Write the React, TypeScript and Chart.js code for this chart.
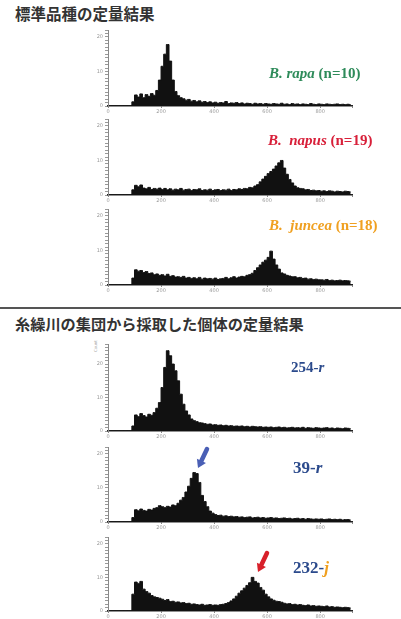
import React, { useEffect, useRef } from "react";
import { Chart, registerables } from "chart.js";
Chart.register(...registerables);

// bin centers (10-unit bins)
const binCenters = [
  5, 15, 25, 35, 45, 55, 65, 75, 85, 95,
  105, 115, 125, 135, 145, 155, 165, 175, 185, 195,
  205, 215, 225, 235, 245, 255, 265, 275, 285, 295,
  305, 315, 325, 335, 345, 355, 365, 375, 385, 395,
  405, 415, 425, 435, 445, 455, 465, 475, 485, 495,
  505, 515, 525, 535, 545, 555, 565, 575, 585, 595,
  605, 615, 625, 635, 645, 655, 665, 675, 685, 695,
  705, 715, 725, 735, 745, 755, 765, 775, 785, 795,
  805, 815, 825, 835, 845, 855, 865, 875, 885, 895,
  905, 915,
];

const xTickLabels = ["0", "200", "400", "600", "800"];
const yTickLabels = ["0", "10", "20"];

const rapaCounts = [
  0, 0, 0, 0, 0, 0, 0, 0, 0, 1.2,
  3.2, 2.6, 3.5, 2.4, 3.3, 2.8, 3.6, 3.1, 4.5, 7.5,
  11.5, 15, 17.8, 13, 7.5, 4.2, 3, 2.4, 2.1, 1.7,
  1.9, 1.4, 1.6, 1.2, 1.5, 1.1, 1.3, 1, 1.2, 0.9,
  1.1, 0.8, 1, 0.9, 1.3, 0.7, 0.9, 0.8, 1, 0.7,
  0.9, 0.6, 0.8, 0.7, 0.5, 0.8, 0.6, 0.7, 0.5, 0.7,
  0.6, 0.5, 0.7, 0.6, 0.5, 0.8, 0.5, 0.6, 0.4, 0.7,
  0.5, 0.6, 0.4, 0.6, 0.5, 0.4, 0.7, 0.5, 0.4, 0.6,
  0.5, 0.4, 0.6, 0.5, 0.4, 0.5, 0.6, 0.4, 0.5, 0.4,
  0.5, 0.4,
];

const napusCounts = [
  0, 0, 0, 0, 0, 0, 0, 0, 0, 1.5,
  2.8, 2.4, 2.9, 2, 1.8, 2.2, 1.6, 1.9, 1.7, 2,
  1.6, 1.9, 1.5, 1.8, 1.4, 1.7, 1.5, 1.9, 1.4, 1.6,
  1.7, 1.3, 1.6, 1.5, 1.8, 1.3, 1.5, 1.4, 1.7, 1.3,
  1.5, 1.6, 1.3, 1.5, 1.4, 1.7, 1.3, 1.6, 1.5, 1.8,
  1.6, 1.9, 1.8, 2.2, 2.1, 2.6, 3, 3.8, 4.6, 5.4,
  6.2, 6.8, 7.5, 8.4, 9.3, 10, 7.8, 6, 4.5, 3.5,
  2.6, 2.1, 1.9, 1.8, 1.5, 1.6, 1.3, 1.4, 1.2, 1.3,
  1.1, 1.2, 1, 1.2, 1.1, 0.9, 1.1, 1, 0.9, 1.1,
  1, 0.9,
];

const junceaCounts = [
  0, 0, 0, 0, 0, 0, 0, 0, 0, 2,
  4.4, 4, 4.2, 3.6, 3.9, 3.3, 3.5, 3, 3.2, 2.8,
  3, 2.6, 3.1, 2.5, 2.7, 2.3, 2.4, 2.2, 2.5, 2,
  2.2, 1.9, 2.1, 1.8, 2.2, 1.7, 2, 1.8, 1.9, 1.7,
  2, 1.6, 1.8, 1.9, 2.2, 1.8, 2.1, 2.4, 2, 2.3,
  2.5, 2.4, 2.8, 3, 3.4, 4.2, 5, 5.8, 6.6, 7.2,
  8, 9.8, 7.5, 5.8, 4.6, 3.5, 3.2, 2.8, 2.6, 2.4,
  2.4, 2.1, 2.2, 1.9, 2, 1.7, 1.8, 1.6, 1.7, 1.5,
  1.5, 1.4, 1.6, 1.3, 1.4, 1.2, 1.3, 1.4, 1.2, 1.3,
  1.2, 1.1,
];

const r254Counts = [
  0, 0, 0, 0, 0, 0, 0, 0, 0, 1.5,
  4.8, 4.3, 5.2, 4.6, 4.2, 5, 4.7, 5.5, 6.8, 8.5,
  13, 19, 24, 22.5, 20, 18, 15, 11, 8, 6,
  4.8, 3.6, 3.1, 2.8, 2.5, 2.4, 2.2, 2, 2.1, 1.8,
  1.9, 1.7, 1.8, 1.6, 1.7, 1.5, 1.6, 1.4, 1.5, 1.4,
  1.5, 1.3, 1.4, 1.2, 1.4, 1.3, 1.2, 1.3, 1.1, 1.2,
  1.1, 1.2, 1, 1.1, 1.2, 1, 1.1, 0.9, 1, 1.1,
  0.9, 1, 0.9, 1.1, 0.8, 1, 0.9, 0.8, 1, 0.9,
  0.8, 0.9, 1, 0.8, 0.9, 0.7, 0.9, 0.8, 0.7, 0.9,
  0.8, 0.7,
];

const r39Counts = [
  0, 0, 0, 0, 0, 0, 0, 0, 0, 1.3,
  3.6, 3.3, 3.8, 3.4, 3.2, 3.7, 3.5, 4, 4.2, 4.8,
  4.5, 4.2, 4.6, 4.4, 5, 4.8, 5.5, 6.4, 7.2, 8.8,
  10.5, 12.8, 14.5, 14.2, 11.6, 7.8, 6, 4.5, 3.2, 2.6,
  2.2, 1.9, 2, 1.7, 1.8, 1.6, 1.7, 1.5, 1.6, 1.4,
  1.5, 1.3, 1.4, 1.5, 1.2, 1.3, 1.4, 1.2, 1.3, 1.1,
  1.2, 1.3, 1.1, 1.2, 1, 1.1, 1.2, 1, 1.1, 0.9,
  1, 1.1, 0.9, 1, 0.8, 1, 0.9, 0.8, 0.9, 0.8,
  0.9, 0.7, 0.8, 0.9, 0.7, 0.8, 0.7, 0.8, 0.6, 0.7,
  0.7, 0.6,
];

const j232Counts = [
  0, 0, 0, 0, 0, 0, 0, 0, 0, 5,
  8.6, 8.2, 8.8, 6.5, 5.8, 5.3, 4.6, 4.2, 4, 3.8,
  3.5, 3.1, 3.4, 2.8, 2.9, 2.6, 2.7, 2.4, 2.5, 2.2,
  2.3, 2, 2.1, 1.9, 1.8, 2, 1.7, 1.8, 1.9, 1.7,
  1.8, 1.7, 1.9, 2, 2.2, 2.5, 3, 3.6, 4.4, 5.3,
  6, 6.8, 7.6, 8.4, 10, 8.8, 8.3, 7, 6.2, 5,
  4.2, 3.6, 3.2, 2.9, 2.8, 2.6, 2.3, 2.1, 2.2, 1.9,
  2, 1.8, 1.9, 1.7, 1.6, 1.8, 1.5, 1.6, 1.4, 1.5,
  1.4, 1.3, 1.5, 1.2, 1.3, 1.1, 1.2, 1.1, 1, 1.1,
  1, 0.9,
];

const PAD_TOP = 4;
const X_AXIS_H = 12;
const Y_AXIS_W = 20;
const CANVAS_LEFT = 88;
const CANVAS_W = 265;

type PanelProps = { values: number[]; top: number; bottom: number; ymax: number };

function Histogram({ values, top, bottom, ymax }: PanelProps) {
  const ref = useRef<HTMLCanvasElement | null>(null);
  const height = bottom - top + PAD_TOP + X_AXIS_H;
  useEffect(() => {
    if (!ref.current) return;
    const chart = new Chart(ref.current, {
      type: "line",
      data: {
        datasets: [
          {
            data: binCenters.map((x, i) => ({ x, y: values[i] })),
            stepped: "middle",
            fill: "origin",
            backgroundColor: "#111",
            borderColor: "#111",
            borderWidth: 1,
            pointRadius: 0,
          } as any,
        ],
      },
      options: {
        responsive: false,
        maintainAspectRatio: false,
        animation: false,
        layout: { padding: { top: PAD_TOP, left: 0, right: 0, bottom: 0 } },
        plugins: { legend: { display: false }, tooltip: { enabled: false } },
        scales: {
          x: {
            type: "linear",
            min: 0,
            max: 920,
            offset: false,
            grid: { drawOnChartArea: false, tickLength: 2, color: "#888" },
            border: { color: "#222", width: 1.5 },
            ticks: {
              stepSize: 200,
              autoSkip: false,
              maxRotation: 0,
              padding: 1,
              color: "#999",
              font: { size: 5, family: "DejaVu Sans" },
              callback: (v: any) => {
                const s = String(v);
                return xTickLabels.includes(s) ? s : "";
              },
            },
            afterFit: (s: any) => {
              s.height = X_AXIS_H;
            },
          },
          y: {
            min: 0,
            max: ymax,
            grid: { drawOnChartArea: false, tickLength: 3, color: "#999" },
            border: { color: "#888", width: 1 },
            ticks: {
              stepSize: 1,
              autoSkip: false,
              maxTicksLimit: 100,
              padding: 2,
              color: "#999",
              font: { size: 5, family: "DejaVu Sans" },
              callback: (v: any) => {
                const s = String(v);
                return yTickLabels.includes(s) ? s : "";
              },
            },
            afterFit: (s: any) => {
              s.width = Y_AXIS_W;
            },
          },
        },
      } as any,
    });
    return () => chart.destroy();
  }, [values, top, bottom, ymax]);
  return (
    <canvas
      ref={ref}
      width={CANVAS_W}
      height={height}
      style={{ position: "absolute", left: CANVAS_LEFT, top: top - PAD_TOP, width: CANVAS_W, height }}
    />
  );
}

function Arrow({ x1, y1, x2, y2, color }: { x1: number; y1: number; x2: number; y2: number; color: string }) {
  const dx = x2 - x1;
  const dy = y2 - y1;
  const len = Math.sqrt(dx * dx + dy * dy);
  const ux = dx / len;
  const uy = dy / len;
  const head = 8;
  const bx = x2 - ux * head;
  const by = y2 - uy * head;
  const px = -uy;
  const py = ux;
  const hw = 5;
  const points = `${x2},${y2} ${bx + px * hw},${by + py * hw} ${bx - px * hw},${by - py * hw}`;
  return (
    <g>
      <line x1={x1} y1={y1} x2={bx} y2={by} stroke={color} strokeWidth={4.5} strokeLinecap="round" />
      <polygon points={points} fill={color} />
    </g>
  );
}

const serif = "'Liberation Serif', 'Times New Roman', serif";
const gothic = "'Noto Sans CJK JP', 'Noto Sans', sans-serif";

export default function App() {
  const label = (extra: React.CSSProperties): React.CSSProperties => ({
    position: "absolute",
    fontFamily: serif,
    fontWeight: 700,
    lineHeight: 1,
    whiteSpace: "pre",
    ...extra,
  });
  return (
    <div style={{ position: "absolute", left: 0, top: 0, width: 401, height: 619, background: "#fff", overflow: "hidden" }}>
      <div style={{ position: "absolute", left: 15, top: 6, fontFamily: gothic, fontWeight: 700, fontSize: 15.5, lineHeight: 1, color: "#333", whiteSpace: "nowrap" }}>
        標準品種の定量結果
      </div>
      <Histogram values={rapaCounts} top={29} bottom={106} ymax={22} />
      <Histogram values={napusCounts} top={118} bottom={195} ymax={22} />
      <Histogram values={junceaCounts} top={208} bottom={285} ymax={22} />

      <div style={{ position: "absolute", left: 0, top: 307, width: 401, height: 1.5, background: "#555" }} />
      <div style={{ position: "absolute", left: 15, top: 316, fontFamily: gothic, fontWeight: 700, fontSize: 15.2, lineHeight: 1, color: "#333", whiteSpace: "nowrap" }}>
        糸繰川の集団から採取した個体の定量結果
      </div>
      <div style={{ position: "absolute", left: 93, top: 352, fontFamily: "DejaVu Sans", fontSize: 4, color: "#aaa", transform: "rotate(-90deg)", transformOrigin: "0 0", whiteSpace: "nowrap" }}>
        Count
      </div>
      <Histogram values={r254Counts} top={343} bottom={431} ymax={26} />
      <Histogram values={r39Counts} top={446} bottom={522} ymax={22} />
      <Histogram values={j232Counts} top={536} bottom={611} ymax={22} />

      <div style={label({ left: 269, top: 66, fontSize: 15, color: "#2e8b5a" })}>
        <i>B. rapa</i> (n=10)
      </div>
      <div style={label({ left: 268, top: 133, fontSize: 15, color: "#d8203a" })}>
        <i>B.  napus</i> (n=19)
      </div>
      <div style={label({ left: 269, top: 218, fontSize: 15, color: "#f0a020" })}>
        <i>B.  juncea</i> (n=18)
      </div>
      <div style={label({ left: 291, top: 360, fontSize: 15, color: "#2b4a8c" })}>
        254-<i>r</i>
      </div>
      <div style={label({ left: 293, top: 459, fontSize: 17, color: "#2b4a8c" })}>
        39-<i>r</i>
      </div>
      <div style={label({ left: 293, top: 559, fontSize: 17, color: "#2b4a8c" })}>
        232-<i style={{ color: "#f0a020" }}>j</i>
      </div>

      <svg width={401} height={619} style={{ position: "absolute", left: 0, top: 0, pointerEvents: "none" }}>
        <Arrow x1={207} y1={449} x2={198} y2={468} color="#4a5fb5" />
        <Arrow x1={267} y1={553} x2={258} y2={572} color="#d8202a" />
      </svg>
    </div>
  );
}
